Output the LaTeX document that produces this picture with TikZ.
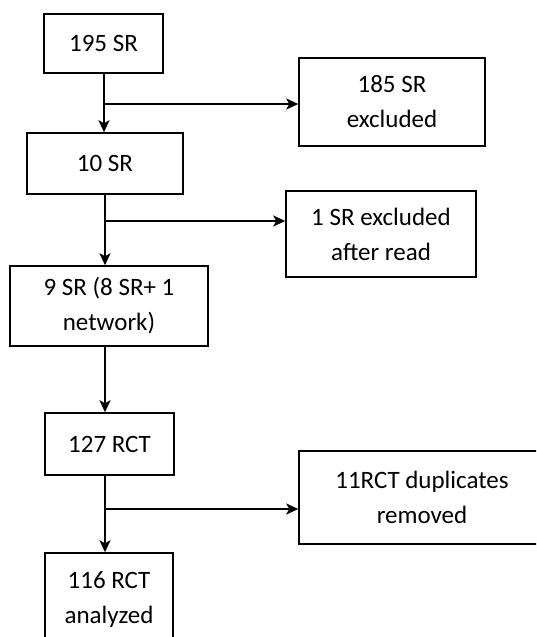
\documentclass[tikz,border=0pt]{standalone}
\usepackage{fontspec}
\setmainfont{Carlito}
\usetikzlibrary{arrows.meta}

\begin{document}
\begin{tikzpicture}[x=1pt,y=-1pt,
    box/.style={draw=black, line width=1.5pt, align=center, inner sep=0pt,
        font=\fontsize{25}{35}\selectfont},
    arr/.style={line width=1.9pt, -{Stealth[length=12pt,width=11pt,inset=3pt]}}]

\useasboundingbox (0,0) rectangle (536,637);
\clip (0,0) rectangle (536,637);

\node[box, minimum width=119pt, minimum height=59pt] (sr195) at (103.5,43.5) {195 SR};
\node[box, minimum width=186pt, minimum height=88pt] (sr185) at (392,102) {185 SR\\excluded};
\node[box, minimum width=156pt, minimum height=61pt] (sr10) at (105,163.5) {10 SR};
\node[box, minimum width=190pt, minimum height=86pt] (sr1) at (381,234) {1 SR excluded\\after read};
\node[box, minimum width=198pt, minimum height=80pt] (sr9) at (109,306) {9 SR (8 SR+ 1\\network)};
\node[box, minimum width=129pt, minimum height=62pt] (rct127) at (109.5,444) {127 RCT};
\node[box, minimum width=246pt, minimum height=93pt] (rct11) at (422,497.5) {11RCT duplicates\\removed};
\node[box, minimum width=128pt, minimum height=94pt] (rct116) at (109,600) {116 RCT\\analyzed};

\coordinate (b1) at (104,104);
\coordinate (b2) at (105,221);
\coordinate (b3) at (105,509);

\draw[arr] (sr195.south -| b1) -- (sr10.north -| b1);
\draw[arr] (b1) -- (b1 -| sr185.west);

\draw[arr] (sr10.south -| b2) -- (sr9.north -| b2);
\draw[arr] (b2) -- (b2 -| sr1.west);

\draw[arr] (sr9.south -| b2) -- (rct127.north -| b2);

\draw[arr] (rct127.south -| b3) -- (rct116.north -| b3);
\draw[arr] (b3) -- (b3 -| rct11.west);

\end{tikzpicture}
\end{document}
